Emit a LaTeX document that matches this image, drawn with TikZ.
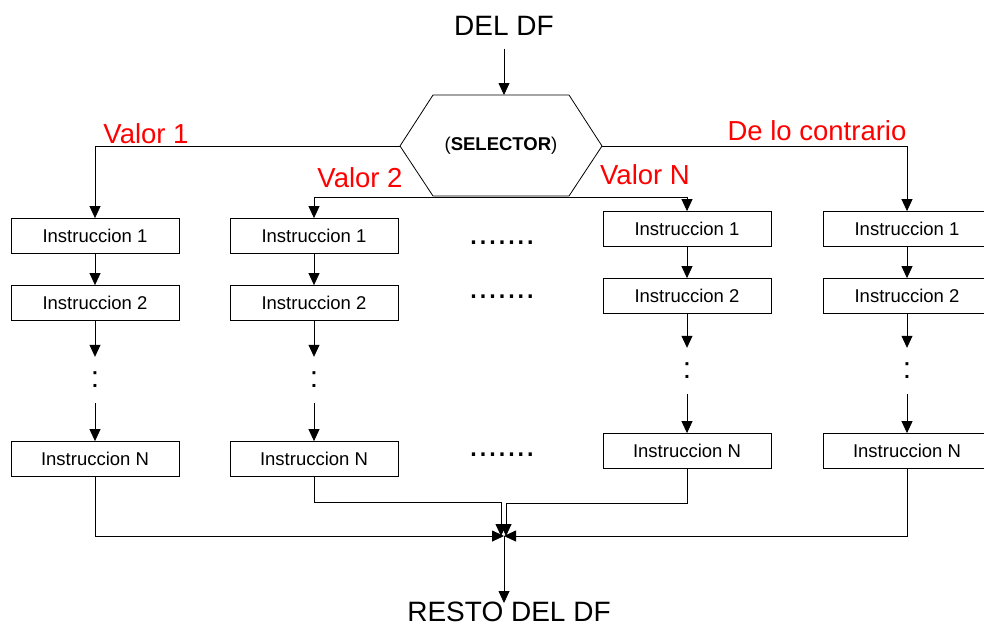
\documentclass[tikz,border=0pt]{standalone}
\usepackage{fontspec}
\setmainfont{Liberation Sans}
\usetikzlibrary{arrows.meta}
\tikzset{
  ins/.style={draw, line width=0.8pt, minimum width=168pt, minimum height=35pt,
              inner sep=0pt, font=\fontsize{18.5}{22}\selectfont},
  ln/.style={line width=0.8pt},
  arr/.style={line width=0.8pt, -{Triangle[length=12pt,width=11pt]}},
  tag/.style={anchor=base, text=red, font=\fontsize{27.5}{32}\selectfont},
  ttl/.style={anchor=base, font=\fontsize{28}{33}\selectfont},
  gap/.style={minimum height=46pt, inner sep=0pt, font=\fontsize{30}{34}\selectfont},
  hd/.style={inner sep=0pt, font=\fontsize{34}{36}\selectfont},
}
\begin{document}
\begin{tikzpicture}[x=1pt,y=-1pt]
  \useasboundingbox (0,0) rectangle (984,632);
  % selector
  \node[ttl] (top) at (504,35) {DEL DF};
  \coordinate (selN) at (504,95);
  \coordinate (selW) at (400,146);
  \coordinate (selE) at (602,146);
  \coordinate (selS) at (501,197);
  \draw[ln] (433,95) -- (569,95) -- (selE) -- (569,196) -- (433,196) -- (selW) -- cycle;
  \node[font=\fontsize{18.5}{22}\selectfont] (sel) at (501,146) {(\textbf{SELECTOR})};
  \draw[arr] ([yshift=-10pt]top.south) -- (selN);
  % column 1
  \node[ins] (a1) at (95,236) {Instruccion 1};
  \node[ins] (b1) at (95,303) {Instruccion 2};
  \node[gap] (c1) at (95,380) {:};
  \node[ins] (n1) at (95,459) {Instruccion N};
  % column 2
  \node[ins] (a2) at (314,236) {Instruccion 1};
  \node[ins] (b2) at (314,303) {Instruccion 2};
  \node[gap] (c2) at (314,380) {:};
  \node[ins] (n2) at (314,459) {Instruccion N};
  % column 3
  \node[ins] (a3) at (687,229) {Instruccion 1};
  \node[ins] (b3) at (687,296) {Instruccion 2};
  \node[gap] (c3) at (687,371) {:};
  \node[ins] (n3) at (687,451) {Instruccion N};
  % column 4
  \node[ins] (a4) at (907,229) {Instruccion 1};
  \node[ins] (b4) at (907,296) {Instruccion 2};
  \node[gap] (c4) at (907,371) {:};
  \node[ins] (n4) at (907,451) {Instruccion N};
  \draw[arr] (a1) -- (b1);
  \draw[arr] (b1) -- (c1);
  \draw[arr] (c1) -- (n1);
  \draw[arr] (a2) -- (b2);
  \draw[arr] (b2) -- (c2);
  \draw[arr] (c2) -- (n2);
  \draw[arr] (a3) -- (b3);
  \draw[arr] (b3) -- (c3);
  \draw[arr] (c3) -- (n3);
  \draw[arr] (a4) -- (b4);
  \draw[arr] (b4) -- (c4);
  \draw[arr] (c4) -- (n4);
  % dots between columns
  \node[hd] (d1) at (502,243) {.......};
  \node[hd] (d2) at (502,297) {.......};
  \node[hd] (d3) at (502,455) {.......};
  % branches
  \draw[arr] (selW) -| (a1);
  \draw[arr] (selE) -| (a4);
  \draw[arr] (selS) -| (a2);
  \draw[arr] (selS) -| (a3);
  \node[tag] (v1) at (146,143) {Valor 1};
  \node[tag] (v2) at (360,187) {Valor 2};
  \node[tag] (vn) at (645,184) {Valor N};
  \node[tag] (vx) at (817,140) {De lo contrario};
  % merge
  \coordinate (join) at (504,536);
  \coordinate (m2) at (501,502);
  \coordinate (m3) at (506,503);
  \coordinate (restN) at (504,603);
  \draw[arr] (n1) |- (join);
  \draw[arr] (n4) |- (join);
  \draw[arr] (n2) |- (m2) -- (m2 |- join);
  \draw[arr] (n3) |- (m3) -- (m3 |- join);
  \draw[arr] (join) -- (restN);
  \node[ttl] (rest) at (509,621) {RESTO DEL DF};
\end{tikzpicture}
\end{document}
